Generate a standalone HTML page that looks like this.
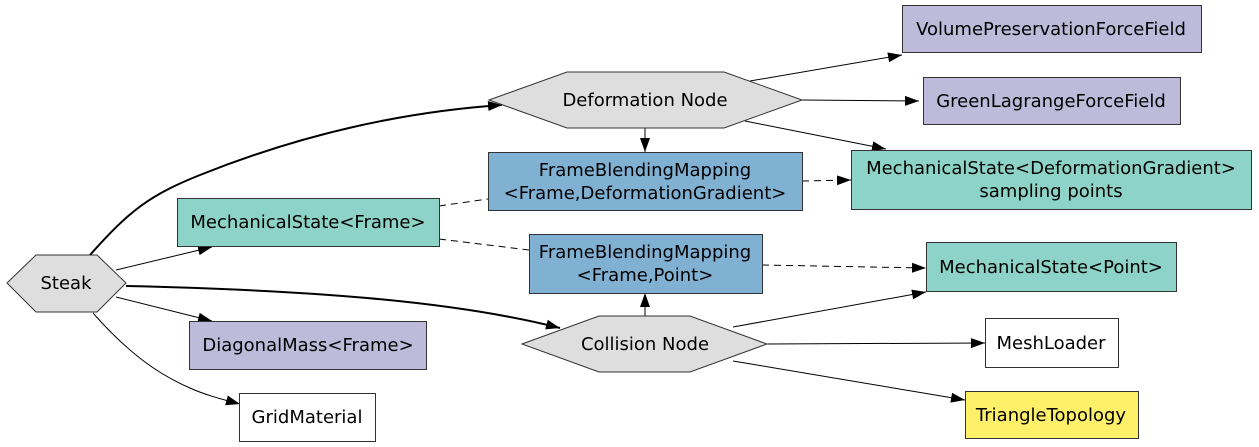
<!DOCTYPE html>
<html><head><meta charset="utf-8"><style>
html,body{margin:0;padding:0;background:#fff;}
svg{display:block;}
text{font-family:"DejaVu Sans","Liberation Sans",sans-serif;font-size:18px;fill:#000;}
</style></head><body>
<svg width="1259" height="447" viewBox="0 0 1259 447" xmlns="http://www.w3.org/2000/svg">
<defs>
<marker id="a" markerUnits="userSpaceOnUse" markerWidth="16" markerHeight="12" refX="14" refY="5" orient="auto"><path d="M0,0 L14,5 L0,10 Z" fill="#000"/></marker>
</defs>
<g fill="none" stroke="#000" stroke-width="1">
<path d="M90,255 C130,210 150,195 200,175 C 300,135 400,112 502,105" stroke-width="2" marker-end="url(#a)"/>
<path d="M126,286 C300,290 450,300 560,328" stroke-width="2" marker-end="url(#a)"/>
<path d="M116,270 L212,247" marker-end="url(#a)"/>
<path d="M116,297 L212,321" marker-end="url(#a)"/>
<path d="M93,313 C130,355 160,375 190,388 C205,395 225,400 240,404" marker-end="url(#a)"/>
<path d="M645,128 L645,152" marker-end="url(#a)"/>
<path d="M750,81 L902,55" marker-end="url(#a)"/>
<path d="M802,100 L919,101" marker-end="url(#a)"/>
<path d="M745,121 L886,149" marker-end="url(#a)"/>
<path d="M802,181 L851,180" stroke-dasharray="7,5" marker-end="url(#a)"/>
<path d="M439,206 L488,199" stroke-dasharray="7,5"/>
<path d="M439,239 L529,250" stroke-dasharray="7,5"/>
<path d="M762,265 L926,268" stroke-dasharray="7,5" marker-end="url(#a)"/>
<path d="M645,316 L645,293" marker-end="url(#a)"/>
<path d="M733,327 L926,292" marker-end="url(#a)"/>
<path d="M767,344 L985,343" marker-end="url(#a)"/>
<path d="M733,361 L965,400" marker-end="url(#a)"/>
</g>
<g stroke="#333" stroke-width="1">
<polygon points="7,283 36,255 97,255 126,283 97,312 36,312" fill="#dedede"/>
<polygon points="489,100 567,72 724,72 802,100 724,128 567,128" fill="#dedede"/>
<polygon points="522,344 599,316 690,316 767,344 690,372 599,372" fill="#dedede"/>
<rect x="177.5" y="198.5" width="262" height="48" fill="#8dd3c7"/>
<rect x="189.5" y="321.5" width="237" height="48" fill="#bebada"/>
<rect x="239.5" y="393.5" width="136" height="48" fill="#fff"/>
<rect x="488.5" y="152.5" width="314" height="58" fill="#80b1d3"/>
<rect x="851.5" y="150.5" width="400" height="59" fill="#8dd3c7"/>
<rect x="529.5" y="234.5" width="233" height="59" fill="#80b1d3"/>
<rect x="902.5" y="5.5" width="299" height="47" fill="#bebada"/>
<rect x="923.5" y="77.5" width="257" height="47" fill="#bebada"/>
<rect x="926.5" y="242.5" width="250" height="49" fill="#8dd3c7"/>
<rect x="985.5" y="318.5" width="133" height="49" fill="#fff"/>
<rect x="965.5" y="391.5" width="173" height="47" fill="#fff06a"/>
</g>
<g text-anchor="middle">
<text x="66" y="289">Steak</text>
<text x="645" y="106">Deformation Node</text>
<text x="645" y="350">Collision Node</text>
<text x="308" y="228">MechanicalState&lt;Frame&gt;</text>
<text x="308" y="351">DiagonalMass&lt;Frame&gt;</text>
<text x="307" y="423">GridMaterial</text>
<text x="645" y="176">FrameBlendingMapping</text>
<text x="645" y="199">&lt;Frame,DeformationGradient&gt;</text>
<text x="1051" y="174">MechanicalState&lt;DeformationGradient&gt;</text>
<text x="1051" y="197">sampling points</text>
<text x="645" y="258">FrameBlendingMapping</text>
<text x="645" y="281">&lt;Frame,Point&gt;</text>
<text x="1051" y="35">VolumePreservationForceField</text>
<text x="1051" y="107">GreenLagrangeForceField</text>
<text x="1051" y="273">MechanicalState&lt;Point&gt;</text>
<text x="1051" y="349">MeshLoader</text>
<text x="1051" y="421">TriangleTopology</text>
</g>
</svg>
</body></html>
